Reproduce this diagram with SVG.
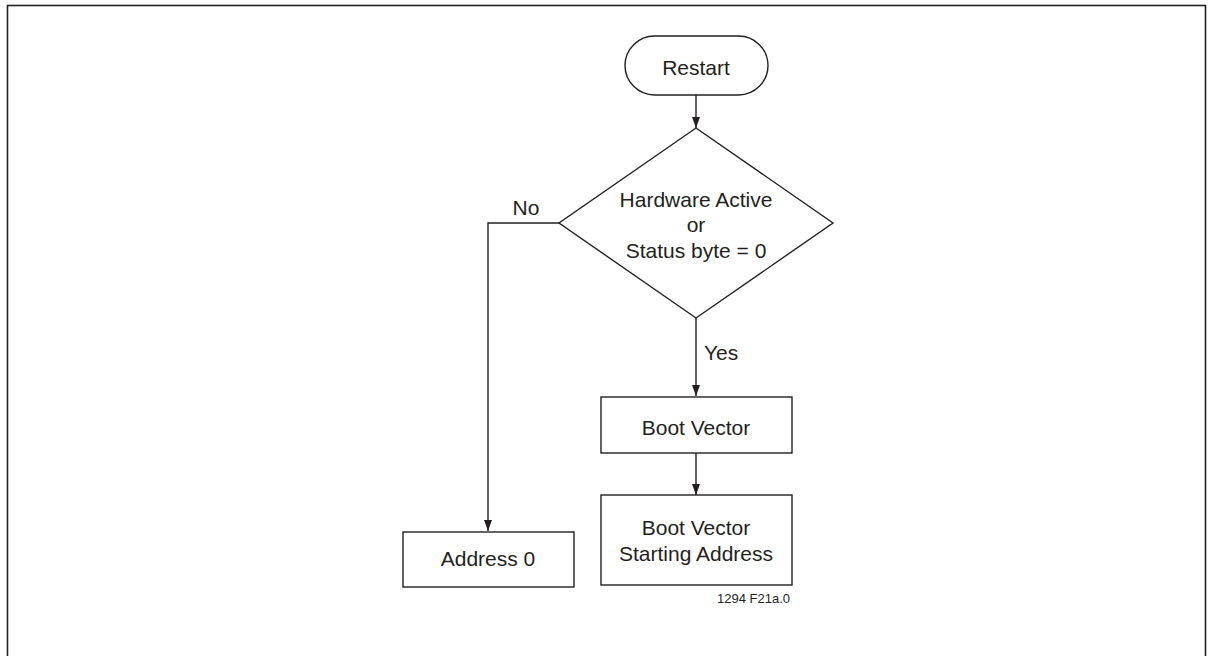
<svg xmlns="http://www.w3.org/2000/svg" width="1212" height="656" viewBox="0 0 1212 656">
  <defs>
    <marker id="arrow" viewBox="0 0 11 8" refX="11" refY="4" markerWidth="11" markerHeight="8" markerUnits="userSpaceOnUse" orient="auto">
      <path d="M0,0 L11,4 L0,8 z" fill="#231f20"/>
    </marker>
    <style>
      .shape { fill: #ffffff; stroke: #231f20; stroke-width: 1.4; }
      .edge { fill: none; stroke: #231f20; stroke-width: 1.4; }
      .lbl { font-family: "Liberation Sans", Arial, sans-serif; font-size: 21px; fill: #231f20; text-anchor: middle; }
      .note { font-family: "Liberation Sans", Arial, sans-serif; font-size: 13px; fill: #231f20; text-anchor: end; }
    </style>
  </defs>

  <rect x="0" y="0" width="1212" height="656" fill="#ffffff"/>
  <!-- figure frame -->
  <rect x="7.5" y="5.5" width="1198" height="660" fill="none" stroke="#231f20" stroke-width="1.6"/>

  <g id="connectors">
    <line class="edge" x1="696" y1="95" x2="696" y2="128" marker-end="url(#arrow)"/>
    <polyline class="edge" points="559,223 488,223 488,531" marker-end="url(#arrow)"/>
    <line class="edge" x1="696" y1="318" x2="696" y2="396" marker-end="url(#arrow)"/>
    <line class="edge" x1="696" y1="453" x2="696" y2="495" marker-end="url(#arrow)"/>
    <text class="lbl" x="526" y="215">No</text>
    <text class="lbl" x="704" y="360" style="text-anchor:start">Yes</text>
  </g>

  <g id="restart">
    <rect class="shape" x="625" y="36" width="143" height="59" rx="29.5" ry="29.5"/>
    <text class="lbl" x="696" y="75">Restart</text>
  </g>

  <g id="check">
    <polygon class="shape" points="696,128 833,223 696,318 559,223"/>
    <text class="lbl" x="696" y="207">Hardware Active</text>
    <text class="lbl" x="696" y="232">or</text>
    <text class="lbl" x="696" y="258">Status byte = 0</text>
  </g>

  <g id="boot-vector">
    <rect class="shape" x="601" y="397" width="191" height="56"/>
    <text class="lbl" x="696" y="435">Boot Vector</text>
  </g>

  <g id="boot-start">
    <rect class="shape" x="601" y="495" width="191" height="90"/>
    <text class="lbl" x="696" y="535">Boot Vector</text>
    <text class="lbl" x="696" y="561">Starting Address</text>
  </g>

  <g id="address-zero">
    <rect class="shape" x="403" y="532" width="171" height="55"/>
    <text class="lbl" x="488" y="566">Address 0</text>
  </g>

  <text class="note" x="790" y="603">1294 F21a.0</text>
</svg>
